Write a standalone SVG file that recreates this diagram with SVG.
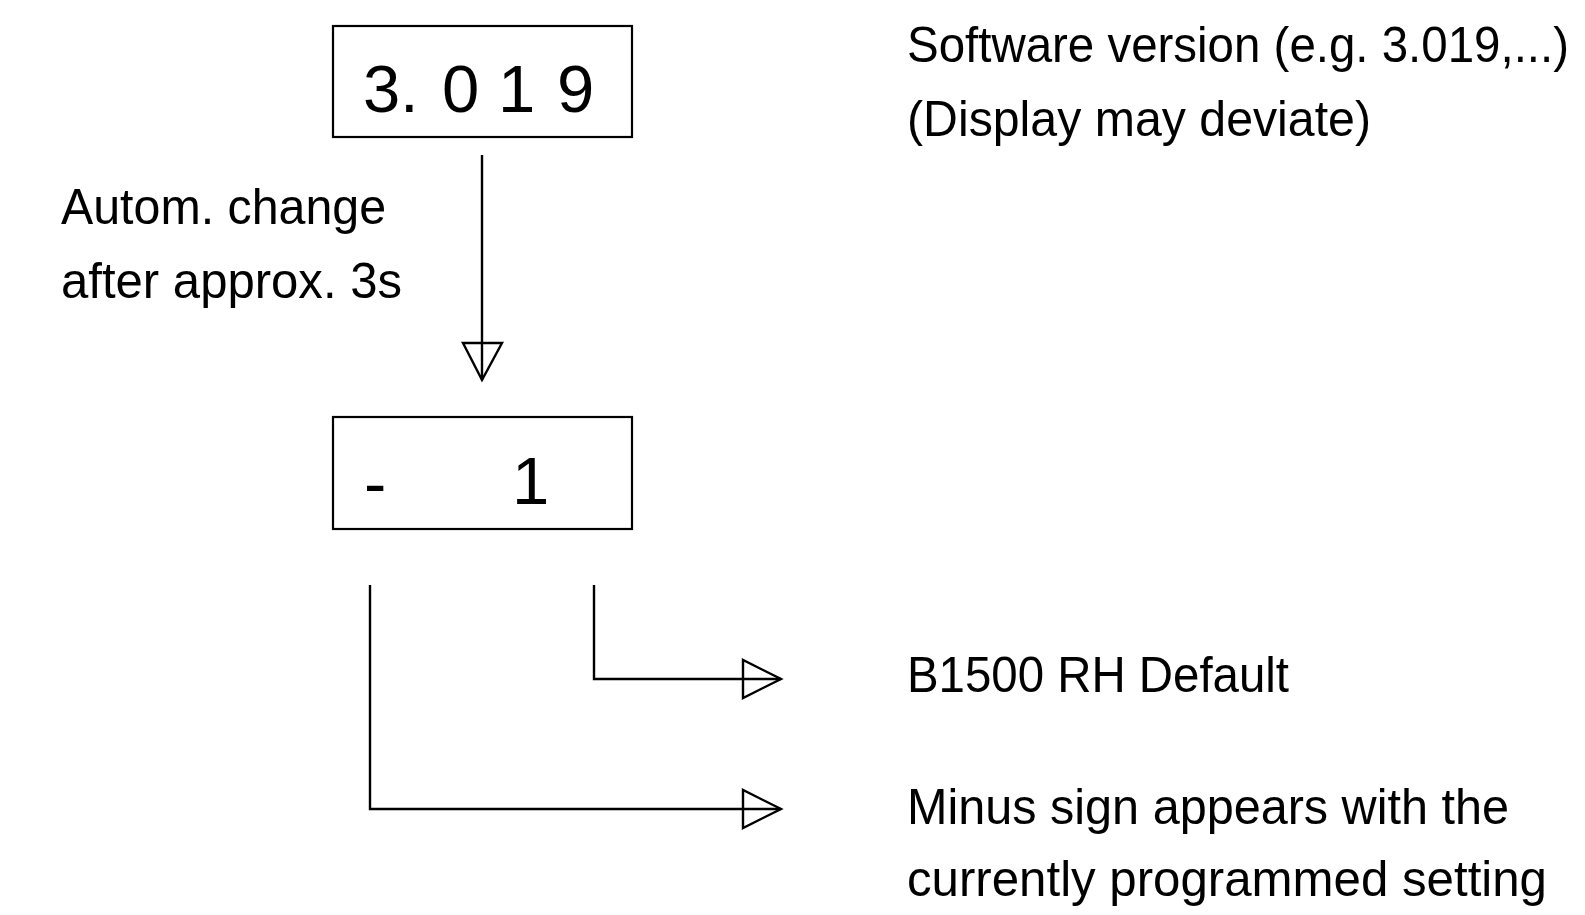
<svg xmlns="http://www.w3.org/2000/svg" width="1585" height="915" viewBox="0 0 1585 915">
<style>
.box{fill:#fff;stroke:#000;stroke-width:2.2}
.ln{fill:none;stroke:#000;stroke-width:2.4}
.head{fill:none;stroke:#000;stroke-width:2.4;stroke-linejoin:miter}
.lbl{font-family:"Liberation Sans",Arial,sans-serif;font-size:50px;fill:#000}
.dig{font-family:"Liberation Sans",Arial,sans-serif;font-size:67px;fill:#000}
</style>
<rect width="1585" height="915" fill="#fff"/>
<g id="connectors">
<line class="ln" x1="482" y1="155" x2="482" y2="380"/>
<polygon class="head" points="463,343 502,343 482,380"/>
<polyline class="ln" points="594,585 594,679 781,679"/>
<polygon class="head" points="743,660 743,698 781,679"/>
<polyline class="ln" points="370,585 370,809 781,809"/>
<polygon class="head" points="743,790 743,828 781,809"/>
</g>
<g id="display1">
<rect class="box" x="333" y="26" width="299" height="111"/>
<text class="dig" x="363 400 442 498 557" y="112">3.019</text>
</g>
<g id="display2">
<rect class="box" x="333" y="417" width="299" height="112"/>
<text class="dig" x="364" y="506" font-size="68">-</text>
<text class="dig" x="512" y="504" font-size="70">1</text>
</g>
<g id="label-change">
<text class="lbl" x="61" y="224" textLength="325" lengthAdjust="spacingAndGlyphs">Autom. change</text>
<text class="lbl" x="61" y="298" textLength="341" lengthAdjust="spacingAndGlyphs">after approx. 3s</text>
</g>
<g id="label-version">
<text class="lbl" x="907" y="62" font-size="47" textLength="662" lengthAdjust="spacingAndGlyphs">Software version (e.g. 3.019,...)</text>
<text class="lbl" x="907" y="136" textLength="464" lengthAdjust="spacingAndGlyphs">(Display may deviate)</text>
</g>
<g id="label-default">
<text class="lbl" x="907" y="692" textLength="382" lengthAdjust="spacingAndGlyphs">B1500 RH Default</text>
</g>
<g id="label-minus">
<text class="lbl" x="907" y="824" textLength="602" lengthAdjust="spacingAndGlyphs">Minus sign appears with the</text>
<text class="lbl" x="907" y="896" textLength="640" lengthAdjust="spacingAndGlyphs">currently programmed setting</text>
</g>
</svg>
